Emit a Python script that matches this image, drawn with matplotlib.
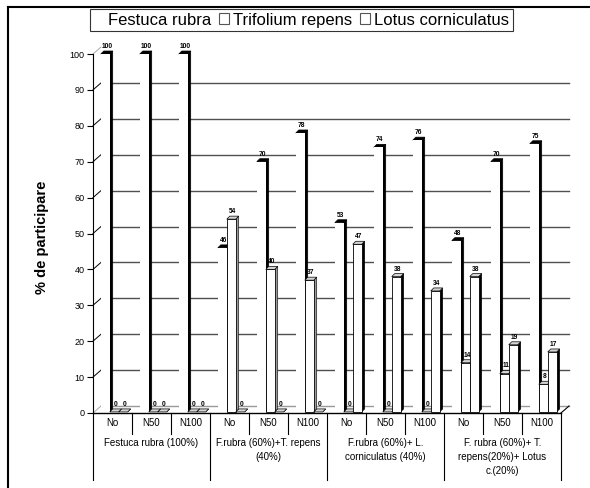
import numpy as np
import matplotlib.pyplot as plt
from matplotlib.patches import Polygon, Rectangle
from matplotlib.lines import Line2D

plt.rcParams['font.family'] = ['Liberation Sans', 'DejaVu Sans']

# data
series = ['Festuca rubra', 'Trifolium repens', 'Lotus corniculatus']
doses = ['No', 'N50', 'N100']
groups = ['Festuca rubra (100%)',
          'F.rubra (60%)+T. repens\n(40%)',
          'F.rubra (60%)+ L.\ncorniculatus (40%)',
          'F. rubra (60%)+ T.\nrepens(20%)+ Lotus\nc.(20%)']
festuca = [100, 100, 100, 46, 70, 78, 53, 74, 76, 48, 70, 75]
trifolium = [0, 0, 0, 54, 40, 37, 0, 0, 0, 14, 11, 8]
lotus = [0, 0, 0, 0, 0, 0, 47, 38, 34, 38, 19, 17]

W, H = 590, 488
ncat = len(festuca)
px_x = ncat / 468.0      # category units per pixel
px_y = 100 / 359.0       # value units per pixel

fig = plt.figure(figsize=(W / 100, H / 100), dpi=100)
ax = fig.add_axes([93 / W, 1 - 413 / H, 468 / W, 359 / H])
ax.set_xlim(0, ncat)
ax.set_ylim(0, 100)
for s in ['top', 'right', 'bottom']:
    ax.spines[s].set_visible(False)
ax.spines['left'].set_linewidth(0.8)
ax.set_xticks([])
ax.set_yticks(range(0, 101, 10))
ax.tick_params(axis='y', length=4, width=0.8, labelsize=6.5, pad=2)

# back wall + floor
wdx, wdy = 8 * px_x, 7 * px_y
for v in range(0, 101, 10):
    c = '#aaaaaa' if v in (0, 100) else 'black'
    ax.plot([0, wdx], [v, v + wdy], color=c, lw=0.7, clip_on=False, zorder=1)
    if 0 < v < 100:
        ax.plot([wdx, ncat + wdx], [v + wdy] * 2, color='#505050', lw=1.0,
                clip_on=False, zorder=1)
ax.plot([wdx, ncat + wdx], [wdy, wdy], color='#999999', lw=1.0, clip_on=False, zorder=1)
ax.plot([0, ncat], [0, 0], color='black', lw=1.0, clip_on=False, zorder=2)
ax.plot([ncat, ncat + wdx], [0, wdy], color='black', lw=0.8, clip_on=False, zorder=2)

# 3d bars
bw = 0.23
bdx, bdy = 3 * px_x, 3 * px_y
base = 0.3
styles = [dict(front='none', side='black', top='black'),
          dict(front='black', side='#9a9a9a', top='#d4d4d4'),
          dict(front='black', side='black', top='#d4d4d4')]
for i in range(ncat):
    for j, vals in enumerate([festuca, trifolium, lotus]):
        v = vals[i]
        st = styles[j]
        x = i + 0.20 + j * bw
        top = max(v, base)
        z = 3 + j
        ax.add_patch(Polygon([(x + bw, base), (x + bw + bdx, base + bdy),
                              (x + bw + bdx, top + bdy), (x + bw, top)],
                             closed=True, fc=st['side'], ec='black', lw=0.4,
                             zorder=z, clip_on=False))
        ax.add_patch(Polygon([(x, top), (x + bw, top), (x + bw + bdx, top + bdy),
                              (x + bdx, top + bdy)],
                             closed=True, fc=st['top'], ec='black', lw=0.5,
                             zorder=z, clip_on=False))
        if v > base:
            ax.bar(x, v - base, width=bw, bottom=base, align='edge', color='white',
                   edgecolor=st['front'], lw=0.6, zorder=z + 0.5, clip_on=False)
        ax.text(x + bw / 2 + bdx / 2, top + bdy + 0.3, str(v), ha='center',
                va='bottom', fontsize=4.8, fontweight='bold', zorder=10)

# category table under the axis
for i in range(ncat + 1):
    bottom = -67 * px_y if i % 3 == 0 else -21 * px_y
    ax.plot([i, i], [0, bottom], color='black', lw=0.8, clip_on=False)
for i in range(ncat):
    ax.text(i + 0.5, -10 * px_y, doses[i % 3], ha='center', va='center', fontsize=7)
for g, name in enumerate(groups):
    ax.text(g * 3 + 1.5, -25 * px_y, name, ha='center', va='top', fontsize=7,
            linespacing=1.5)

fig.text(42 / W, 1 - 237 / H, '% de participare', rotation=90, ha='center',
         va='center', fontsize=10.5, fontweight='bold')

handles = [Rectangle((0, 0), 1, 1, fc='white', ec='white'),
           Rectangle((0, 0), 1, 1, fc='white', ec='#555555', lw=0.8),
           Rectangle((0, 0), 1, 1, fc='white', ec='#555555', lw=0.8)]
leg = fig.legend(handles, series, loc='upper center',
                 bbox_to_anchor=(301.5 / W, 1 - 9 / H), ncol=3, frameon=True,
                 fancybox=False, edgecolor='black', fontsize=12,
                 handlelength=0.6, handleheight=0.6, handletextpad=0.25,
                 columnspacing=0.45, borderpad=0.22, borderaxespad=0)
leg.get_frame().set_linewidth(0.8)

# outer frame
fig.add_artist(Line2D([8 / W, 1], [1 - 7 / H] * 2, color='black', lw=1.5,
                      transform=fig.transFigure))
fig.add_artist(Line2D([8 / W] * 2, [0, 1 - 7 / H], color='black', lw=1.5,
                      transform=fig.transFigure))

fig.savefig('out.png', dpi=100)
